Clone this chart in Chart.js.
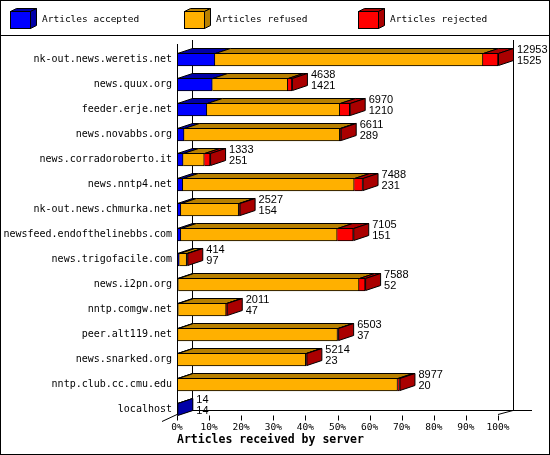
<!DOCTYPE html>
<html>
<head>
<meta charset="utf-8">
<script src="https://cdn.jsdelivr.net/npm/chart.js@4.4.1/dist/chart.umd.min.js"></script>
<style>
  html, body { margin: 0; padding: 0; background: #fff; }
  #wrap { width: 550px; height: 455px; }
</style>
</head>
<body>
<div id="wrap"><canvas id="feeds"></canvas></div>
<script>
const servers = [
  'nk-out.news.weretis.net', 'news.quux.org', 'feeder.erje.net', 'news.novabbs.org',
  'news.corradoroberto.it', 'news.nntp4.net', 'nk-out.news.chmurka.net',
  'newsfeed.endofthelinebbs.com', 'news.trigofacile.com', 'news.i2pn.org',
  'nntp.comgw.net', 'peer.alt119.net', 'news.snarked.org', 'nntp.club.cc.cmu.edu', 'localhost'
];
const offered  = [12953, 4638, 6970, 6611, 1333, 7488, 2527, 7105, 414, 7588, 2011, 6503, 5214, 8977, 14];
const accepted = [1525, 1421, 1210, 289, 251, 231, 154, 151, 97, 52, 47, 37, 23, 20, 14];

// share of the biggest feed
const pctAccepted = [11.8, 11.0, 9.3, 2.2, 1.9, 1.8, 1.2, 1.2, 0.7, 0.4, 0.4, 0.3, 0.2, 0.2, 0.1];
const pctRefused  = [83.5, 23.5, 41.4, 48.5, 6.6, 53.4, 18.0, 48.7, 2.3, 56.3, 14.9, 49.7, 39.9, 68.5, 0];
const pctRejected = [4.7, 1.3, 3.1, 0.3, 1.8, 2.6, 0.3, 5.0, 0.2, 1.9, 0.2, 0.2, 0.2, 0.6, 0];

const xTicks = [0, 10, 20, 30, 40, 50, 60, 70, 80, 90, 100];
const seriesNames = ['Articles accepted', 'Articles refused', 'Articles rejected'];
const frontColors = ['#0000ff', '#ffb000', '#ff0000'];
const shadeColors = ['#0000a8', '#b88000', '#aa0000'];

const DX = 15, DY = 5;
const MONO = '"DejaVu Sans Mono", monospace';

function poly(ctx, pts, fill) {
  ctx.beginPath();
  ctx.moveTo(pts[0][0], pts[0][1]);
  for (let i = 1; i < pts.length; i++) ctx.lineTo(pts[i][0], pts[i][1]);
  ctx.closePath();
  ctx.fillStyle = fill;
  ctx.fill();
  ctx.stroke();
}

function seg(ctx, x1, y1, x2, y2) {
  ctx.beginPath();
  ctx.moveTo(x1, y1);
  ctx.lineTo(x2, y2);
  ctx.stroke();
}

const px = v => Math.round(v) + 0.5;

const frame3d = {
  id: 'frame3d',
  beforeDraw(chart) {
    const ctx = chart.ctx;
    ctx.save();
    ctx.fillStyle = '#fff';
    ctx.fillRect(0, 0, chart.width, chart.height);
    ctx.strokeStyle = '#000';
    ctx.lineWidth = 1;
    ctx.strokeRect(0.5, 0.5, chart.width - 1, chart.height - 1);
    seg(ctx, 0, 35.5, chart.width, 35.5);

    // legend cubes
    ctx.font = '9.5px ' + MONO;
    ctx.textBaseline = 'middle';
    ctx.textAlign = 'left';
    seriesNames.forEach((name, i) => {
      const x = 10 + i * 174, y = 11;
      ctx.fillStyle = frontColors[i];
      ctx.fillRect(x, y, 20, 17);
      ctx.strokeRect(x + 0.5, y + 0.5, 20, 17);
      poly(ctx, [[x + 0.5, y + 0.5], [x + 6.5, y - 2.5], [x + 26.5, y - 2.5], [x + 20.5, y + 0.5]], shadeColors[i]);
      poly(ctx, [[x + 20.5, y + 0.5], [x + 26.5, y - 2.5], [x + 26.5, y + 14.5], [x + 20.5, y + 17.5]], shadeColors[i]);
      ctx.fillStyle = '#000';
      ctx.fillText(name, x + 32, 20);
    });
    ctx.restore();
  },
  beforeDatasetsDraw(chart) {
    const { ctx, chartArea: a } = chart;
    const L = a.left, R = a.right, B = a.bottom;
    ctx.save();
    ctx.strokeStyle = '#000';
    ctx.lineWidth = 1;
    seg(ctx, px(L + DX), 40, px(L + DX), px(B));
    seg(ctx, px(R + DX), 40, px(R + DX), px(B));
    seg(ctx, L + DX, px(B), R + 34, px(B));
    seg(ctx, L - 15, B + 12, L, B + 5);
    seg(ctx, L, B + 5, L + DX, B + 1);
    seg(ctx, R, B + 5, R + DX, B + 1);
    const xs = chart.scales.x;
    xTicks.forEach(v => {
      const x = px(xs.getPixelForValue(v));
      seg(ctx, x, B + 6, x, B + 11);
    });
    ctx.restore();
  },
  afterDatasetsDraw(chart) {
    const { ctx, chartArea: a } = chart;
    const metas = [0, 1, 2].map(i => chart.getDatasetMeta(i));
    ctx.save();
    ctx.strokeStyle = '#000';
    ctx.lineWidth = 1;
    servers.forEach((s, row) => {
      let lastX = a.left, lastSet = 0, top = 0, cy = 0;
      metas.forEach((meta, d) => {
        const el = meta.data[row];
        const p = el.getProps(['x', 'y', 'base', 'height'], true);
        top = p.y - p.height / 2;
        cy = p.y;
        if (chart.data.datasets[d].data[row] <= 0) return;
        const x0 = p.base + 0.5, x1 = p.x + 0.5, t = top + 0.5;
        poly(ctx, [[x0, t], [x0 + DX, t - DY], [x1 + DX, t - DY], [x1, t]], shadeColors[d]);
        lastX = p.x;
        lastSet = d;
      });
      const x1 = lastX + 0.5, t = top + 0.5, b = top + 13 - 0.5;
      poly(ctx, [[x1, t], [x1 + DX, t - DY], [x1 + DX, b - DY], [x1, b]], shadeColors[lastSet]);

      ctx.fillStyle = '#000';
      ctx.font = '11px "Liberation Sans", sans-serif';
      ctx.textAlign = 'left';
      ctx.textBaseline = 'middle';
      ctx.fillText(String(offered[row]), lastX + DX + 4, cy - 10);
      ctx.fillText(String(accepted[row]), lastX + DX + 4, cy + 1.5);
    });
    seg(ctx, px(a.left), 44, px(a.left), a.bottom + 5);
    ctx.restore();
  }
};

const barStyle = {
  barThickness: 13,
  borderWidth: 1,
  borderColor: '#000',
  borderSkipped: 'start',
  clip: false
};

new Chart(document.getElementById('feeds'), {
  type: 'bar',
  data: {
    labels: servers,
    datasets: [
      { label: seriesNames[0], data: pctAccepted, backgroundColor: frontColors[0], ...barStyle },
      { label: seriesNames[1], data: pctRefused, backgroundColor: frontColors[1], ...barStyle },
      { label: seriesNames[2], data: pctRejected, backgroundColor: frontColors[2], ...barStyle }
    ]
  },
  options: {
    indexAxis: 'y',
    responsive: true,
    maintainAspectRatio: false,
    animation: false,
    layout: { padding: { top: 59.5, right: 52, bottom: 0, left: 0 } },
    plugins: {
      legend: { display: false },
      tooltip: { enabled: false }
    },
    scales: {
      x: {
        type: 'linear', min: 0, max: 100, stacked: true,
        grid: { display: false, drawTicks: false },
        border: { display: false },
        afterBuildTicks: s => { s.ticks = xTicks.map(v => ({ value: v })); },
        ticks: {
          padding: 12, color: '#000', maxRotation: 0, autoSkip: false,
          font: { family: MONO, size: 9.5 },
          callback: v => v + '%'
        },
        title: {
          display: true, text: 'Articles received by server', align: 'start', color: '#000',
          font: { family: MONO, size: 11.5, weight: 'bold' },
          padding: { top: 0, bottom: 8 }
        },
        afterFit: s => { s.height = 45.5; }
      },
      y: {
        type: 'category', stacked: true, offset: false,
        grid: { display: false, drawTicks: false },
        border: { display: false },
        ticks: { padding: 5, color: '#000', autoSkip: false, font: { family: MONO, size: 10 } },
        afterFit: s => { s.width = 177; }
      }
    }
  },
  plugins: [frame3d]
});
</script>
</body>
</html>
